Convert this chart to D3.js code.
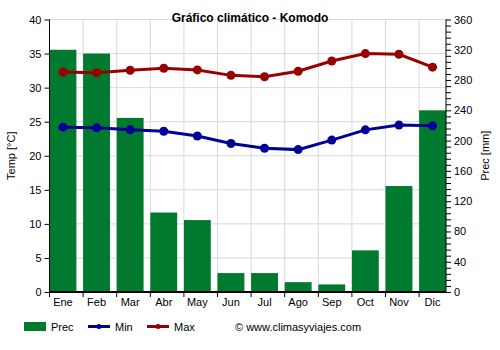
<!DOCTYPE html>
<html><head><meta charset="utf-8">
<script src="https://cdn.jsdelivr.net/npm/d3@7"></script>
<style>body{margin:0;background:#fff}svg{font-family:"Liberation Sans",Arial,sans-serif}</style>
</head><body><svg id="c" width="500" height="350"></svg>
<script>
const months = ["Ene","Feb","Mar","Abr","May","Jun","Jul","Ago","Sep","Oct","Nov","Dic"];
const prec = [320, 315, 230, 105, 95, 25, 25, 13, 10, 55, 140, 240];
const tmin = [24.2, 24.1, 23.8, 23.6, 22.9, 21.8, 21.1, 20.9, 22.3, 23.8, 24.5, 24.4];
const tmax = [32.3, 32.2, 32.55, 32.85, 32.6, 31.8, 31.6, 32.4, 33.9, 35.0, 34.9, 33.0];
const tempTicks = [0,5,10,15,20,25,30,35,40];
const precTicks = [0,40,80,120,160,200,240,280,320,360];

const svg = d3.select("#c");
const L = 49.5, R = 446, T = 19.5, B = 292;
const x = d3.scaleBand().domain(months).range([L, R]).paddingInner(0.2).paddingOuter(0);
const y = d3.scaleLinear().domain([0,40]).range([B, T]);
const y2 = d3.scaleLinear().domain([0,360]).range([B, T]);

// grid
const g = svg.append("g");
g.selectAll(".hg").data(tempTicks).join("line")
  .attr("x1", L).attr("x2", R).attr("y1", d=>y(d)).attr("y2", d=>y(d))
  .attr("stroke", "#d9d9d9").attr("stroke-width", 1);
g.selectAll(".vg").data(months.slice(1)).join("line")
  .attr("x1", d=>x(d)).attr("x2", d=>x(d)).attr("y1", T).attr("y2", B)
  .attr("stroke", "#d9d9d9").attr("stroke-width", 1);

// bars
svg.append("g").selectAll("rect").data(prec).join("rect")
  .attr("x", (d,i)=>x(months[i])).attr("width", x.bandwidth())
  .attr("y", d=>y2(d)).attr("height", d=>B - y2(d))
  .attr("fill", "#007a2e");

// axes
const axL = d3.axisLeft(y).tickValues(tempTicks).tickSize(5).tickPadding(3);
const gl = svg.append("g").attr("transform", `translate(${L},0)`).call(axL);
const axR = d3.axisRight(y2).tickValues(d3.range(0,361,8)).tickSize(5).tickPadding(3)
  .tickFormat(d => precTicks.includes(d) ? d : "");
const gr = svg.append("g").attr("transform", `translate(${R},0)`).call(axR);
const axB = d3.axisBottom(x).tickSize(0).tickPadding(6);
const gb = svg.append("g").attr("transform", `translate(0,${B})`).call(axB);
gb.selectAll(".bt").data(months).join("line").attr("class","bt")
  .attr("x1", d=>x(d)).attr("x2", d=>x(d)).attr("y1", 0).attr("y2", 5).attr("stroke","#000");
gb.select(".domain").attr("stroke-width", 2);
[gl, gr, gb].forEach(a => {
  a.selectAll("text").attr("font-size", 11).attr("fill", "#000").attr("font-family", "Liberation Sans, Arial, sans-serif");
  a.selectAll("line").attr("stroke", "#000");
  a.select(".domain").attr("stroke", "#000");
});
gb.select(".domain").attr("d", `M${L},0H${R}`);
gl.select(".domain").attr("d", `M0,${T}V${B}`);
gr.select(".domain").attr("d", `M0,${T}V${B}`);

// lines
const cx = (d,i) => x(months[i]) + x.bandwidth()/2;
function series(data, color) {
  const line = d3.line().x(cx).y(d=>y(d));
  svg.append("path").datum(data).attr("d", line).attr("fill","none")
    .attr("stroke", color).attr("stroke-width", 3);
  svg.append("g").selectAll("circle").data(data).join("circle")
    .attr("cx", cx).attr("cy", d=>y(d)).attr("r", 4.5).attr("fill", color);
}
series(tmin, "#000099");
series(tmax, "#990000");

// title
svg.append("text").attr("x", 250).attr("y", 21.5).attr("text-anchor","middle")
  .attr("font-size", 12).attr("font-weight","bold").text("Gráfico climático - Komodo");

// axis titles
svg.append("text").attr("transform", `translate(15,${(T+B)/2}) rotate(-90)`)
  .attr("text-anchor","middle").attr("font-size", 11).text("Temp [°C]");
svg.append("text").attr("transform", `translate(489,${(T+B)/2}) rotate(-90)`)
  .attr("text-anchor","middle").attr("font-size", 11).text("Prec [mm]");

// legend
const lg = svg.append("g");
lg.append("rect").attr("x", 24).attr("y", 322).attr("width", 22).attr("height", 9).attr("fill", "#007a2e");
lg.append("text").attr("x", 51).attr("y", 330.5).attr("font-size", 11).text("Prec");
const legItems = [{n:"Min", c:"#000099", x:88}, {n:"Max", c:"#990000", x:147}];
legItems.forEach(it => {
  lg.append("line").attr("x1", it.x).attr("x2", it.x+22).attr("y1", 326.5).attr("y2", 326.5)
    .attr("stroke", it.c).attr("stroke-width", 3);
  lg.append("circle").attr("cx", it.x+11).attr("cy", 326.5).attr("r", 2.5).attr("fill", it.c);
  lg.append("text").attr("x", it.x+27).attr("y", 330.5).attr("font-size", 11).text(it.n);
});
lg.append("text").attr("x", 235).attr("y", 330.5).attr("font-size", 11).text("© www.climasyviajes.com");
</script></body></html>
